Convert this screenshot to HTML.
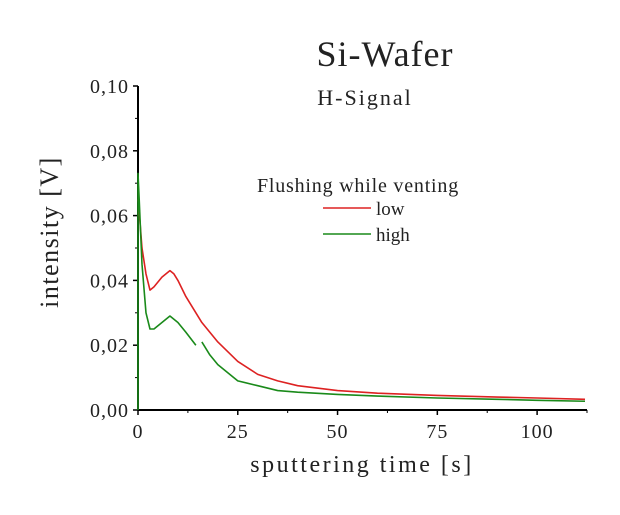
<!DOCTYPE html>
<html><head><meta charset="utf-8"><style>
body{margin:0;background:#fff;}
svg text{font-family:"Liberation Serif",serif;fill:#222;}
</style></head><body>
<svg width="620" height="510">
<text x="385" y="66" font-size="36" text-anchor="middle" letter-spacing="1">Si-Wafer</text>
<text x="365" y="105" font-size="22" text-anchor="middle" letter-spacing="2" fill="#444">H-Signal</text>
<g id="axes"></g>
<g id="series"></g>
<text x="358" y="192" font-size="20" text-anchor="middle" letter-spacing="0.8">Flushing while venting</text>
<line x1="323" y1="208" x2="371" y2="208" stroke="#d22" stroke-width="1.5"/>
<text x="376" y="215" font-size="19">low</text>
<line x1="323" y1="234" x2="371" y2="234" stroke="#1a8a1a" stroke-width="1.5"/>
<text x="376" y="241" font-size="19">high</text>
<text transform="translate(58,232) rotate(-90)" font-size="26" letter-spacing="1.5" text-anchor="middle">intensity [V]</text>
<text x="362" y="472" font-size="24" letter-spacing="2.5" text-anchor="middle">sputtering time [s]</text>
</svg>
<script>
const timeLow=[0,0.5,1,2,3,4,6,8,9,10,12,14,16,18,20,25,30,35,40,50,60,75,90,100,112];
const low=[0.065,0.058,0.05,0.042,0.037,0.038,0.041,0.043,0.042,0.04,0.035,0.031,0.027,0.024,0.021,0.015,0.011,0.009,0.0075,0.006,0.0052,0.0045,0.004,0.0037,0.0033];
const timeHigh1=[0,0,0.3,1,2,3,4,6,8,9,10,12,14.5];
const high1=[0,0.073,0.065,0.045,0.03,0.025,0.025,0.027,0.029,0.028,0.027,0.024,0.02];
const timeHigh2=[16,18,20,25,30,35,40,50,60,75,90,100,112];
const high2=[0.021,0.017,0.014,0.009,0.0075,0.006,0.0055,0.0048,0.0043,0.0037,0.0033,0.003,0.0027];
const xTicks=[0,25,50,75,100];
const yTicks=[0,0.02,0.04,0.06,0.08,0.10];
const yTickLabels=["0,00","0,02","0,04","0,06","0,08","0,10"];
const X0=138,X1=587,XMAX=112.5,Y0=410,Y1=86,YMAX=0.1;
const sx=v=>X0+(X1-X0)*v/XMAX, sy=v=>Y0-(Y0-Y1)*v/YMAX;
const NS="http://www.w3.org/2000/svg";
function mk(t,a,p){const e=document.createElementNS(NS,t);for(const k in a)e.setAttribute(k,a[k]);p.appendChild(e);return e;}
const ax=document.getElementById('axes'),se=document.getElementById('series');
const yl=mk('line',{x1:X0,y1:Y1,x2:X0,y2:Y0,stroke:'#000','stroke-width':2},ax);


const xl=mk('line',{x1:X0,y1:Y0,x2:X1,y2:Y0,stroke:'#000','stroke-width':2},ax);


yTicks.forEach((v,i)=>{
 mk('line',{x1:X0-5,y1:sy(v),x2:X0,y2:sy(v),stroke:'#000','stroke-width':1.5},ax);
 if(i<yTicks.length-1)mk('line',{x1:X0-3,y1:sy(v+0.01),x2:X0,y2:sy(v+0.01),stroke:'#000'},ax);
 const t=mk('text',{x:X0-9,y:sy(v)+7,'font-size':20,'letter-spacing':1,'text-anchor':'end'},ax);t.textContent=yTickLabels[i];
 
 
});
xTicks.forEach(v=>{
 mk('line',{x1:sx(v),y1:Y0,x2:sx(v),y2:Y0+5,stroke:'#000','stroke-width':1.5},ax);
 mk('line',{x1:sx(v+12.5),y1:Y0,x2:sx(v+12.5),y2:Y0+3,stroke:'#000'},ax);
 const t=mk('text',{x:sx(v),y:Y0+28,'font-size':20,'letter-spacing':1,'text-anchor':'middle'},ax);t.textContent=String(v);
 
 
});
function line(xs,ys,c,name){
 const p=mk('polyline',{points:xs.map((x,i)=>sx(x)+','+sy(ys[i])).join(' '),fill:'none',stroke:c,'stroke-width':1.6,'stroke-linejoin':'round'},se);
 
 
}
line(timeLow,low,'#d22','series-low');
line(timeHigh1,high1,'#1a8a1a','series-high-part1');
line(timeHigh2,high2,'#1a8a1a','series-high-part2');
</script>
</body></html>
